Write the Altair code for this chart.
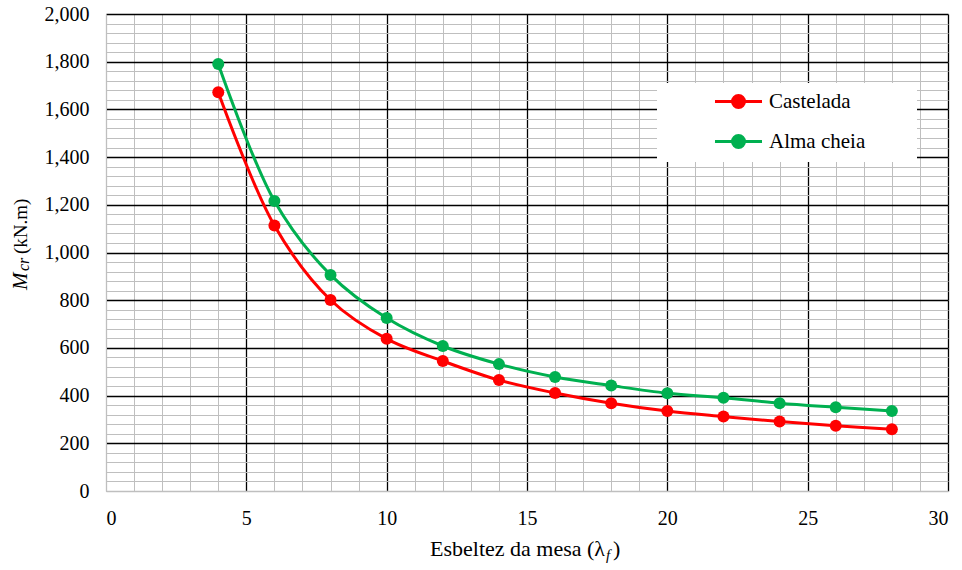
import altair as alt
import pandas as pd

x_vals = [4, 6, 8, 10, 12, 14, 16, 18, 20, 22, 24, 26, 28]
castelada = [1672, 1113, 801, 638, 545, 465, 411, 368, 335, 312, 291, 274, 259]
alma_cheia = [1790, 1216, 906, 725, 608, 532, 478, 442, 410, 391, 368, 351, 335]
series_names = ["Castelada", "Alma cheia"]
series_colors = ["#ff0000", "#00b050"]

x_major = list(range(0, 31, 5))
x_minor = list(range(0, 31, 1))
y_major = list(range(0, 2001, 200))
y_minor = list(range(0, 2001, 40))

rows = []
for xv, a, b in zip(x_vals, castelada, alma_cheia):
    rows.append({"x": xv, "y": a, "s": series_names[0]})
    rows.append({"x": xv, "y": b, "s": series_names[1]})
df = pd.DataFrame(rows)

FONT = "'Liberation Serif', 'Times New Roman', Times, serif"
W, H = 842, 477

xscale = alt.Scale(domain=[0, 30], nice=False, zero=False)
yscale = alt.Scale(domain=[0, 2000], nice=False, zero=False)
cscale = alt.Scale(domain=series_names, range=series_colors)

# line of 47px with a 12px dot, in units of 8px (symbolSize 256 -> 16px box)
sym = "M-2.94,0H2.94M0.75,0A0.75,0.75,0,1,1,-0.75,0A0.75,0.75,0,1,1,0.75,0Z"

base = alt.Chart(df)

minor = base.mark_point(opacity=0).encode(
    x=alt.X("x:Q", scale=xscale,
            axis=alt.Axis(values=x_minor, grid=True, gridColor="#bfbfbf", gridWidth=1,
                          labels=False, ticks=False, domain=False, title=None, orient="bottom")),
    y=alt.Y("y:Q", scale=yscale,
            axis=alt.Axis(values=y_minor, grid=True, gridColor="#bfbfbf", gridWidth=1,
                          labels=False, ticks=False, domain=False, title=None, orient="left")),
)

major = base.mark_point(opacity=0).encode(
    x=alt.X("x:Q", scale=xscale,
            axis=alt.Axis(values=x_major, grid=True,
                          gridColor={"condition": {"test": "datum.value === 0", "value": "#bfbfbf"}, "value": "#000000"},
                          gridWidth=1.3, labels=True, ticks=False, domain=True, domainColor="#bfbfbf",
                          labelFont=FONT, labelFontSize=20, labelColor="#000000", labelPadding=17,
                          title=None, orient="bottom", format="d")),
    y=alt.Y("y:Q", scale=yscale,
            axis=alt.Axis(values=y_major, grid=True,
                          gridColor={"condition": {"test": "datum.value === 0", "value": "#bfbfbf"}, "value": "#000000"},
                          gridWidth=1.3, labels=True, ticks=False, domain=True, domainColor="#bfbfbf",
                          labelFont=FONT, labelFontSize=20, labelColor="#000000", labelPadding=17,
                          title=None, orient="left", format=",d")),
)

lines = base.mark_line(interpolate="catmull-rom", strokeWidth=3).encode(
    x=alt.X("x:Q", scale=xscale, axis=None),
    y=alt.Y("y:Q", scale=yscale, axis=None),
    color=alt.Color("s:N", scale=cscale,
                    legend=alt.Legend(orient="none", legendX=551, legendY=69,
                                      title="\u00a0", titleOrient="right", titlePadding=44,
                                      titleFontSize=12,
                                      symbolType=sym, symbolSize=256, symbolStrokeWidth=3,
                                      labelFont=FONT, labelFontSize=21, labelColor="#000000",
                                      fillColor="white", padding=8, rowPadding=15,
                                      symbolOffset=63, labelOffset=20)),
    order=alt.Order("x:Q"),
)

points = base.mark_circle(size=144, opacity=1).encode(
    x=alt.X("x:Q", scale=xscale, axis=None),
    y=alt.Y("y:Q", scale=yscale, axis=None),
    color=alt.Color("s:N", scale=cscale, legend=None),
)

title_df = pd.DataFrame({"k": [0]})
tb = alt.Chart(title_df)

x_t1 = tb.mark_text(font=FONT, fontSize=22, align="right", baseline="alphabetic").encode(
    x=alt.value(499), y=alt.value(542), text=alt.value("Esbeltez da mesa (λ"))
x_t2 = tb.mark_text(font=FONT, fontSize=15, fontStyle="italic", align="left", baseline="alphabetic").encode(
    x=alt.value(500), y=alt.value(546), text=alt.value("f"))
x_t3 = tb.mark_text(font=FONT, fontSize=22, align="left", baseline="alphabetic").encode(
    x=alt.value(507), y=alt.value(542), text=alt.value(")"))

y_t1 = tb.mark_text(font=FONT, fontSize=21, fontStyle="italic", align="left", baseline="alphabetic", angle=270).encode(
    x=alt.value(-79), y=alt.value(276), text=alt.value("M"))
y_t2 = tb.mark_text(font=FONT, fontSize=16, fontStyle="italic", align="left", baseline="alphabetic", angle=270).encode(
    x=alt.value(-77), y=alt.value(257), text=alt.value("cr"))
y_t3 = tb.mark_text(font=FONT, fontSize=19, align="left", baseline="alphabetic", angle=270).encode(
    x=alt.value(-79), y=alt.value(240), text=alt.value("(kN.m)"))

chart = alt.layer(minor, major, lines, points, x_t1, x_t2, x_t3, y_t1, y_t2, y_t3).resolve_axis(
    x="independent", y="independent"
).properties(
    width=W, height=H,
    autosize=alt.AutoSizeParams(type="none"),
    padding={"left": 106, "top": 14, "right": 14, "bottom": 79},
    background="white",
).configure_view(stroke=None)

chart.save("out.html", embed_options={"renderer": "svg", "actions": False})
